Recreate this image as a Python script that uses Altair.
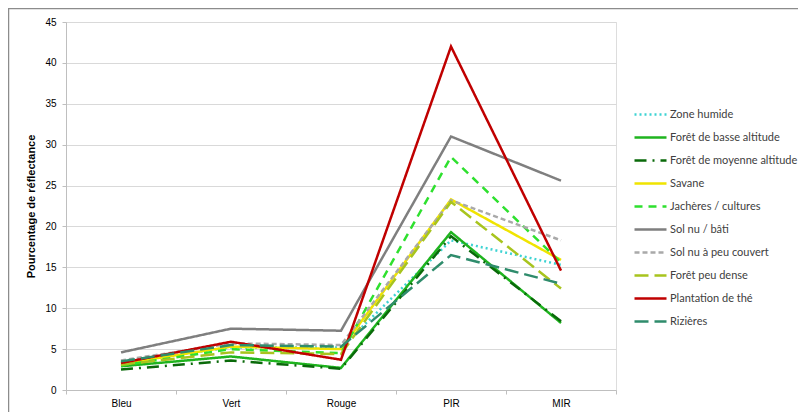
import altair as alt
import pandas as pd

bands = ["Bleu", "Vert", "Rouge", "PIR", "MIR"]
series = [
    "Zone humide",
    "Forêt de basse altitude",
    "Forêt de moyenne altitude",
    "Savane",
    "Jachères / cultures",
    "Sol nu / bâti",
    "Sol nu à peu couvert",
    "Forêt peu dense",
    "Plantation de thé",
    "Rizières",
]
zone_humide = [3.4, 5.2, 5.2, 18.3, 15.3]
foret_basse = [2.9, 4.1, 2.7, 19.3, 8.2]
foret_moyenne = [2.5, 3.6, 2.6, 18.8, 8.4]
savane = [3.2, 5.3, 5.0, 23.3, 15.9]
jacheres = [3.0, 5.0, 4.5, 28.5, 15.6]
sol_nu_bati = [4.6, 7.5, 7.25, 31.0, 25.6]
sol_nu_peu = [3.6, 5.7, 5.5, 23.2, 18.3]
foret_peu_dense = [3.1, 4.6, 4.4, 23.0, 12.4]
plantation_the = [3.3, 5.9, 3.7, 42.0, 14.6]
rizieres = [3.5, 5.5, 5.3, 16.5, 13.0]

colors = ["#3ED3D3", "#1FB41F", "#0A6A0A", "#F0E400", "#2EE02E",
          "#7F7F7F", "#A9A9A9", "#A8C41E", "#C00000", "#2F8C6C"]
dashes = [[2, 3], [1, 0], [12, 6, 2, 6], [1, 0], [8, 6],
          [1, 0], [5, 3], [14, 6], [1, 0], [14, 6]]

values = [zone_humide, foret_basse, foret_moyenne, savane, jacheres,
          sol_nu_bati, sol_nu_peu, foret_peu_dense, plantation_the, rizieres]

rows = []
for name, vals in zip(series, values):
    for i, (b, v) in enumerate(zip(bands, vals)):
        rows.append({"Bande": b, "idx": i, "Série": name, "Valeur": v})
df = pd.DataFrame(rows)

FONT = "Lato"

legend = alt.Legend(
    title=None, orient="none", legendX=567, legendY=75,
    symbolType="stroke", symbolSize=1024, symbolStrokeWidth=2.5,
    labelFont=FONT, labelFontSize=11, labelColor="#404040",
    rowPadding=-1, labelOffset=2, labelLimit=200,
)

lines = alt.Chart(df).mark_line(strokeWidth=2.5).encode(
    x=alt.X("Bande:N", sort=bands, bandPosition=0.5,
            scale=alt.Scale(type="band", paddingInner=0, paddingOuter=0),
            axis=alt.Axis(title=None, labelAngle=0, tickBand="extent",
                          domainColor="#BFBFBF", tickColor="#BFBFBF",
                          tickSize=4, labelPadding=4, grid=False)),
    y=alt.Y("Valeur:Q", scale=alt.Scale(domain=[0, 45], nice=False),
            axis=alt.Axis(title="Pourcentage de réflectance", values=list(range(0, 46, 5)),
                          tickSize=4, labelPadding=6, grid=True, gridColor="#D9D9D9",
                          domainColor="#BFBFBF", tickColor="#BFBFBF",
                          titleFontWeight="bold", titleFontSize=11, titlePadding=8)),
    color=alt.Color("Série:N", sort=series,
                    scale=alt.Scale(domain=series, range=colors), legend=legend),
    strokeDash=alt.StrokeDash("Série:N", sort=series,
                              scale=alt.Scale(domain=series, range=dashes), legend=legend),
    order=alt.Order("idx:Q"),
)

frame = alt.Chart(pd.DataFrame({"a": [0]})).mark_rect(
    fill=None, stroke="#8C8C8C", strokeWidth=1.5
).encode(
    x=alt.value(-57.5), x2=alt.value(739), y=alt.value(-13.5), y2=alt.value(430)
)

chart = alt.layer(frame, lines).properties(
    width=550, height=368,
    autosize=alt.AutoSizeParams(type="none"),
    padding={"left": 58, "top": 14, "right": 182, "bottom": 22},
).configure_view(stroke=None).configure_axis(
    labelFont=FONT, titleFont=FONT, labelFontSize=11, labelColor="#404040",
    titleColor="#000000",
).configure(background="white")

chart.save("out.html", embed_options={"renderer": "svg", "actions": False})
